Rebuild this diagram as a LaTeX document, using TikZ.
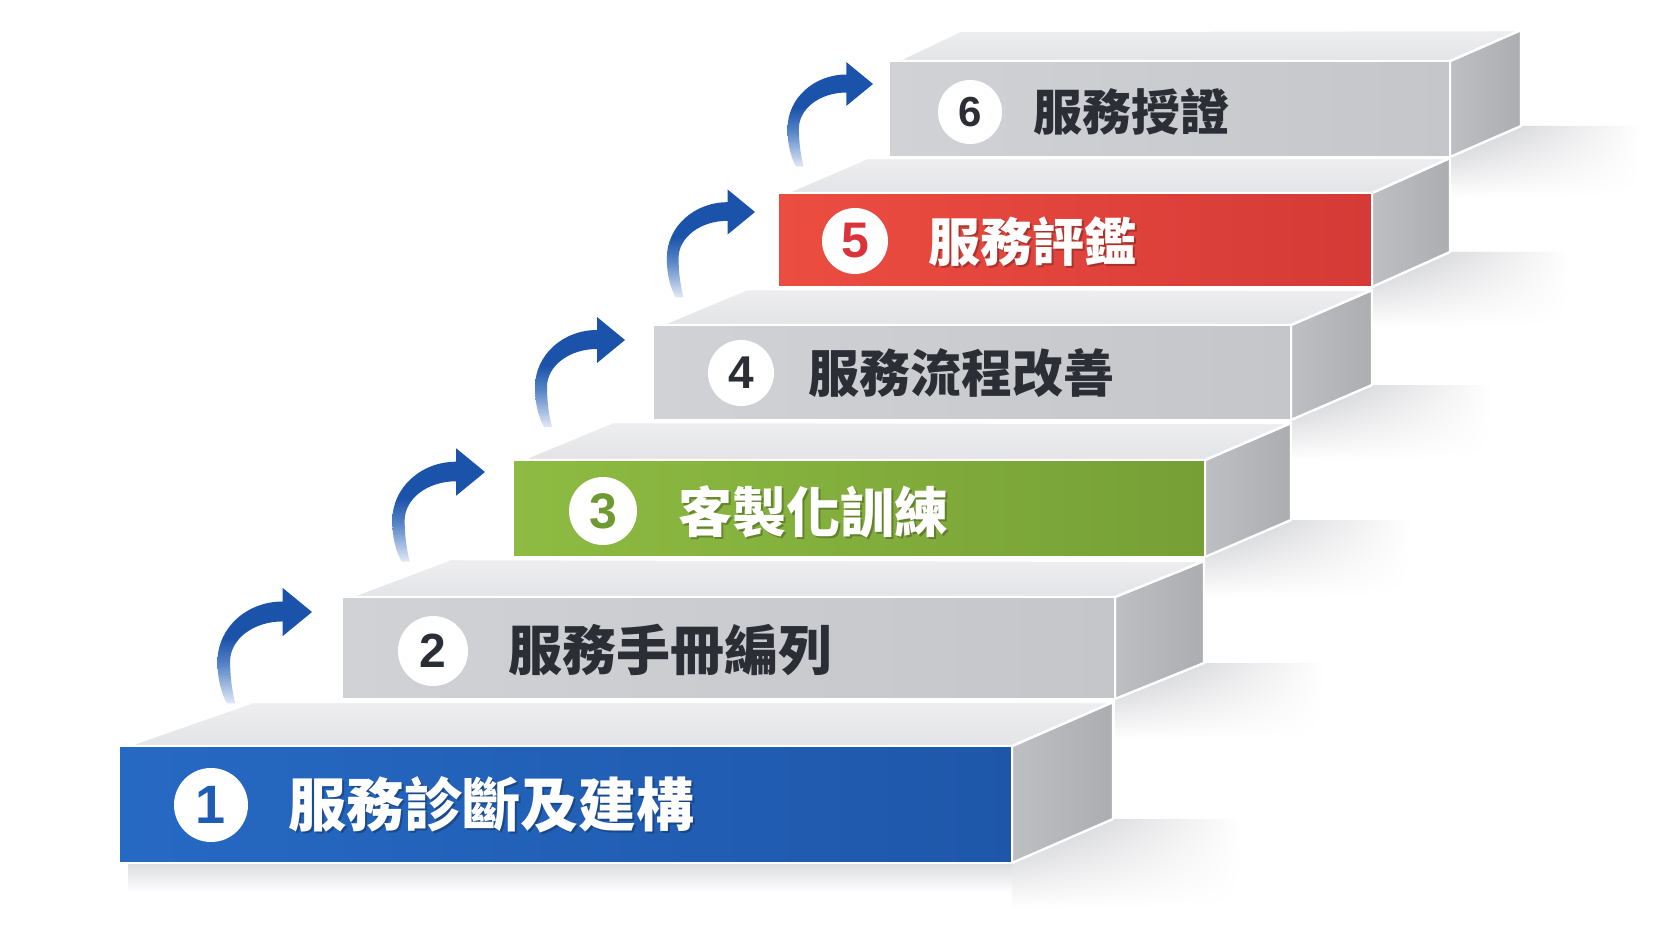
\documentclass[tikz,border=0pt]{standalone}
\usepackage{fontspec}
\usetikzlibrary{shadings}
\newfontfamily\cjk{Noto Sans CJK TC}
\newfontfamily\numfont{Liberation Sans}
\definecolor{topA}{HTML}{EEEEF0}
\definecolor{topB}{HTML}{E3E4E7}
\definecolor{sideA}{HTML}{BEBFC3}
\definecolor{sideB}{HTML}{ACADB1}
\definecolor{grayA}{HTML}{D1D2D6}
\definecolor{grayB}{HTML}{C5C6CA}
\definecolor{blueA}{HTML}{2669C3}
\definecolor{blueB}{HTML}{1E57AA}
\definecolor{greenA}{HTML}{8EBB42}
\definecolor{greenB}{HTML}{76A036}
\definecolor{redA}{HTML}{EC4D41}
\definecolor{redB}{HTML}{D53A36}
\definecolor{ink}{HTML}{2B2E35}
\definecolor{numblue}{HTML}{1F5DB4}
\definecolor{numgreen}{HTML}{6F9A2F}
\definecolor{numred}{HTML}{D8343A}
\definecolor{arrowblue}{HTML}{1C53AA}
\definecolor{arrowmid}{HTML}{5583C6}
\definecolor{arrowlight}{HTML}{E2E9F5}
\definecolor{shadowc}{HTML}{C6C7CB}
\definecolor{shadowl}{HTML}{DCDDE0}
\pgfdeclareverticalshading{arrowshade}{100bp}{color(0bp)=(arrowlight); color(25bp)=(arrowlight); color(42bp)=(arrowmid); color(53bp)=(arrowblue); color(100bp)=(arrowblue)}
\newcommand\fsz[1]{\fontsize{#1}{#1}\selectfont}
\tikzset{
  facestroke/.style={draw=white, line width=2.4pt, line join=round},
  sideface/.style={facestroke, left color=sideA, right color=sideB},
  topface/.style={facestroke, top color=topA, bottom color=topB},
  grayface/.style={facestroke, left color=grayA, right color=grayB},
  blueface/.style={facestroke, left color=blueA, right color=blueB},
  greenface/.style={facestroke, left color=greenA, right color=greenB},
  redface/.style={facestroke, left color=redA, right color=redB},
  numdisc/.style={circle, fill=white, inner sep=0pt},
  steptext/.style={anchor=west, inner sep=0pt},
  risearrow/.pic={
    \shade[shading=arrowshade] (0,0) -- (-28,-23) -- (-28,-10)
      .. controls (-62,-10) and (-90,15) .. (-90,47)
      .. controls (-90,65) and (-86,78) .. (-81,87) -- (-73,87)
      .. controls (-76,76) and (-78,62) .. (-78,47)
      .. controls (-78,26) and (-56,9) .. (-28,9) -- (-28,23) -- cycle;
  }
}
% #1 L, #2 R, #3 T, #4 B, #5 back-left x, #6 back-left y, #7 side x, #8 side y, #9 front style
\newcommand\stairblock[9]{%
  \path[sideface] (#2,#3) -- (#7,#8) -- (#7,{#8+#4-#3}) -- (#2,#4) -- cycle;
  \path[topface] ({#1+8},#3) -- (#2,#3) -- (#7,#8) -- (#5,#6) -- cycle;
  \path[#9] (#1,#3) rectangle (#2,#4);
}
% #1 R, #2 B, #3 side x, #4 side bottom y, #5 length, #6 depth
\newcommand\stairshadow[6]{%
  \path[upper left=shadowc, upper right=white, lower left=white, lower right=white]
    (#1,#2) -- (#3,#4) -- ({#3+#5},#4) -- ({#3+#5},{#2+#6}) -- (#1,{#2+#6}) -- cycle;
}
\begin{document}
\begin{tikzpicture}[x=1pt,y=-1pt]
\useasboundingbox (0,0) rectangle (1672,941);
\fill[white] (0,0) rectangle (1672,941);
% shadows
\stairshadow{1450}{157}{1521}{126}{120}{40}
\stairshadow{1372}{287}{1450}{252}{120}{40}
\stairshadow{1291}{420}{1372}{385}{120}{40}
\stairshadow{1205}{557}{1291}{520}{120}{40}
\stairshadow{1115}{699}{1204}{663}{120}{40}
\stairshadow{1012}{863}{1113}{819}{130}{45}
\shade[top color=shadowl, bottom color=white] (128,863) rectangle (1012,893);
% blocks, back to front
\stairblock{889}{1450}{61}{157}{960}{31}{1521}{30}{grayface}
\stairblock{778}{1372}{193}{287}{867}{158}{1450}{158}{redface}
\stairblock{653}{1291}{325}{420}{747}{289}{1372}{290}{grayface}
\stairblock{513}{1205}{460}{557}{613}{422}{1291}{423}{greenface}
\stairblock{342}{1115}{597}{699}{451}{559}{1204}{561}{grayface}
\stairblock{119}{1012}{746}{863}{253}{702}{1113}{702}{blueface}
% arrows
\pic[scale=1.05] at (312,612) {risearrow};
\pic[scale=1.03] at (485,472) {risearrow};
\pic[scale=1.00] at (625,340) {risearrow};
\pic[scale=0.98] at (755,212) {risearrow};
\pic[scale=0.95] at (873,84) {risearrow};
% number discs
\node[numdisc, minimum size=74pt, text=numblue, font={\numfont\bfseries\fsz{54}}] (n1) at (211,805) {1};
\node[numdisc, minimum size=70pt, text=ink, font={\numfont\bfseries\fsz{48}}] (n2) at (433,651) {2};
\node[numdisc, minimum size=68pt, text=numgreen, font={\numfont\bfseries\fsz{50}}] (n3) at (603,511) {3};
\node[numdisc, minimum size=66pt, text=ink, font={\numfont\bfseries\fsz{46}}] (n4) at (741,373) {4};
\node[numdisc, minimum size=66pt, text=numred, font={\numfont\bfseries\fsz{50}}] (n5) at (855,241) {5};
\node[numdisc, minimum size=64pt, text=ink, font={\numfont\bfseries\fsz{42}}] (n6) at (970,112) {6};
% labels
\node[steptext, text=black, opacity=0.25, font={\cjk\bfseries\fsz{58}}] (t1s) at (290,807) {服務診斷及建構};
\node[steptext, text=white, font={\cjk\bfseries\fsz{58}}] (t1) at (288,805) {服務診斷及建構};
\node[steptext, text=ink, font={\cjk\bfseries\fsz{54}}] (t2) at (508,650) {服務手冊編列};
\node[steptext, text=black, opacity=0.25, font={\cjk\bfseries\fsz{54}}] (t3s) at (680,514) {客製化訓練};
\node[steptext, text=white, font={\cjk\bfseries\fsz{54}}] (t3) at (678,512) {客製化訓練};
\node[steptext, text=ink, font={\cjk\bfseries\fsz{51}}] (t4) at (808,373) {服務流程改善};
\node[steptext, text=black, opacity=0.25, font={\cjk\bfseries\fsz{52}}] (t5s) at (930,244) {服務評鑑};
\node[steptext, text=white, font={\cjk\bfseries\fsz{52}}] (t5) at (928,242) {服務評鑑};
\node[steptext, text=ink, font={\cjk\bfseries\fsz{49}}] (t6) at (1033,112) {服務授證};
\end{tikzpicture}
\end{document}
